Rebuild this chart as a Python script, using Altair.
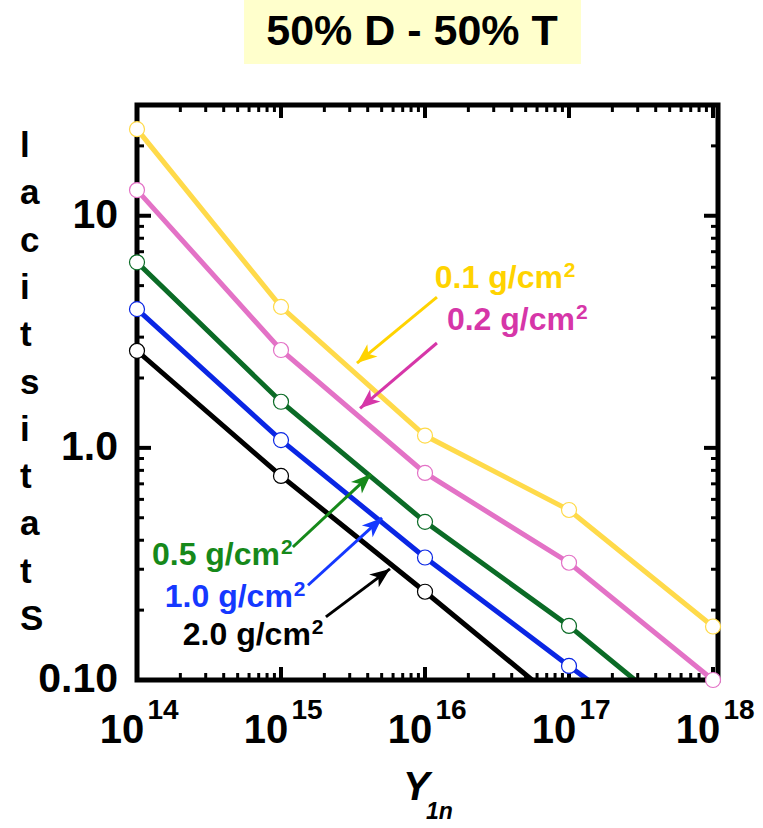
import math
import altair as alt
import pandas as pd

# ---- data -------------------------------------------------------------
densities = ["0.1 g/cm", "0.2 g/cm", "0.5 g/cm", "1.0 g/cm", "2.0 g/cm"]
unit_power = "2"
yields = [1e14, 1e15, 1e16, 1e17, 1e18]
stat_01 = [23.6, 4.05, 1.13, 0.54, 0.17]
stat_02 = [12.9, 2.64, 0.78, 0.32, 0.10]
stat_05 = [6.3, 1.58, 0.48, 0.171, 0.053]
stat_10 = [3.96, 1.08, 0.337, 0.115, 0.040]
stat_20 = [2.62, 0.757, 0.240, 0.074, 0.023]
series_values = [stat_01, stat_02, stat_05, stat_10, stat_20]

# label anchors and arrow start/end points (data units)
label_x = [1.17e16, 1.42e16, 1.27e14, 1.56e14, 2.08e14]
label_y = [4.88, 3.21, 0.313, 0.206, 0.142]
arrow_x0 = [1.21e16, 1.21e16, 1.21e15, 1.54e15, 2.05e15]
arrow_y0 = [4.46, 2.83, 0.374, 0.256, 0.187]
arrow_x1 = [3.37e15, 3.54e15, 4.22e15, 5.03e15, 5.71e15]
arrow_y1 = [2.32, 1.48, 0.771, 0.499, 0.301]

tick_exponents = [14, 15, 16, 17, 18]
y_tick_values = [0.1, 1.0, 10.0]
y_tick_labels = ["0.10", "1.0", "10"]

title_text = "50% D - 50% T"
y_title_word = "Statistical"

# ---- style ------------------------------------------------------------
line_colors = ["#FFDA4A", "#E372C6", "#0B6B26", "#0A26E4", "#000000"]
label_colors = ["#FFD300", "#D636A8", "#16891A", "#1538FF", "#000000"]
FONT = "Liberation Sans"
W, H = 581, 575
X_DOMAIN = [1e14, 1.083e18]
Y_DOMAIN = [0.1, 30]
x_scale = alt.Scale(type="log", domain=X_DOMAIN)
y_scale = alt.Scale(type="log", domain=Y_DOMAIN)
px_dec_x = W / math.log10(X_DOMAIN[1] / X_DOMAIN[0])
px_dec_y = H / math.log10(Y_DOMAIN[1] / Y_DOMAIN[0])
ARROW = "M0,0 L0.8,2 L0,1.45 L-0.8,2 Z"
LABEL_SIZE = 32
LABEL_WIDTH = 128  # advance of "0.0 g/cm" in bold at LABEL_SIZE

one = pd.DataFrame({"k": [0]})
layers = []

# title box
layers.append(alt.Chart(one).mark_rect(color="#FFFFCC").encode(
    x=alt.value(107), x2=alt.value(444), y=alt.value(-105), y2=alt.value(-41)))
layers.append(alt.Chart(one).mark_text(
    text=title_text, font=FONT, fontSize=43, fontWeight="bold",
    align="center", baseline="alphabetic", color="black").encode(
    x=alt.value(275), y=alt.value(-60)))

# inward ticks on all four sides
x_minor = [k * 10.0 ** e for e in range(14, 18) for k in range(2, 10)]
y_minor = [k * 10.0 ** e for e in (-1, 0) for k in range(2, 10)] + [20.0]
for vals, length, sw in [(yields, 13, 4), (x_minor, 7, 3)]:
    d = pd.DataFrame({"v": vals})
    xe = alt.X("v:Q", scale=x_scale, axis=None)
    layers.append(alt.Chart(d).mark_rule(color="black", strokeWidth=sw).encode(
        x=xe, y=alt.value(H), y2=alt.value(H - length)))
    layers.append(alt.Chart(d).mark_rule(color="black", strokeWidth=sw).encode(
        x=xe, y=alt.value(0), y2=alt.value(length)))
for vals, length, sw in [(y_tick_values, 14, 4), (y_minor, 7, 3)]:
    d = pd.DataFrame({"v": vals})
    ye = alt.Y("v:Q", scale=y_scale, axis=None)
    layers.append(alt.Chart(d).mark_rule(color="black", strokeWidth=sw).encode(
        y=ye, x=alt.value(0), x2=alt.value(length)))
    layers.append(alt.Chart(d).mark_rule(color="black", strokeWidth=sw).encode(
        y=ye, x=alt.value(W), x2=alt.value(W - length)))

# series lines
for name, vals, col in zip(densities, series_values, line_colors):
    d = pd.DataFrame({"x": yields, "y": vals})
    layers.append(alt.Chart(d).mark_line(color=col, strokeWidth=5, clip=True).encode(
        x=alt.X("x:Q", scale=x_scale, axis=None),
        y=alt.Y("y:Q", scale=y_scale, axis=None)))

# frame
layers.append(alt.Chart(one).mark_rect(fill="transparent", stroke="black", strokeWidth=5).encode(
    x=alt.value(0), x2=alt.value(W), y=alt.value(0), y2=alt.value(H)))

# open circle markers
for name, vals, col in zip(densities, series_values, line_colors):
    d = pd.DataFrame({"x": yields, "y": vals})
    layers.append(alt.Chart(d).transform_filter(alt.datum.y >= 0.0995).mark_point(
        shape="circle", fill="white", fillOpacity=1, stroke=col, strokeWidth=1.2,
        size=225, opacity=1).encode(
        x=alt.X("x:Q", scale=x_scale, axis=None),
        y=alt.Y("y:Q", scale=y_scale, axis=None)))

# labelled arrows
for i, name in enumerate(densities):
    col = label_colors[i]
    d = pd.DataFrame({"lx": [label_x[i]], "ly": [label_y[i]],
                      "x0": [arrow_x0[i]], "y0": [arrow_y0[i]],
                      "x1": [arrow_x1[i]], "y1": [arrow_y1[i]],
                      "t": [name], "p": [unit_power]})
    dx = math.log10(arrow_x1[i] / arrow_x0[i]) * px_dec_x
    dy = -math.log10(arrow_y1[i] / arrow_y0[i]) * px_dec_y
    ang = math.degrees(math.atan2(dx, -dy)) % 360
    lx = alt.X("lx:Q", scale=x_scale, axis=None)
    ly = alt.Y("ly:Q", scale=y_scale, axis=None)
    layers.append(alt.Chart(d).mark_text(
        font=FONT, fontSize=LABEL_SIZE, fontWeight="bold", align="left",
        baseline="alphabetic", color=col).encode(x=lx, y=ly, text="t:N"))
    layers.append(alt.Chart(d).mark_text(
        font=FONT, fontSize=21, fontWeight="bold", align="left",
        baseline="alphabetic", color=col, dx=LABEL_WIDTH + 1, dy=-11).encode(
        x=lx, y=ly, text="p:N"))
    layers.append(alt.Chart(d).mark_rule(color=col, strokeWidth=3).encode(
        x=alt.X("x0:Q", scale=x_scale, axis=None),
        y=alt.Y("y0:Q", scale=y_scale, axis=None), x2="x1:Q", y2="y1:Q"))
    layers.append(alt.Chart(d).mark_point(
        shape=ARROW, filled=True, size=400, angle=ang, color=col,
        opacity=1, strokeWidth=0).encode(
        x=alt.X("x1:Q", scale=x_scale, axis=None),
        y=alt.Y("y1:Q", scale=y_scale, axis=None)))

# x tick labels: 10 with superscript exponent
xt = pd.DataFrame({"v": [10.0 ** e for e in tick_exponents],
                   "base": ["10"] * len(tick_exponents),
                   "exp": [str(e) for e in tick_exponents]})
layers.append(alt.Chart(xt).mark_text(
    font=FONT, fontSize=40, fontWeight="bold", align="center",
    baseline="alphabetic", dx=-15, color="black").encode(
    x=alt.X("v:Q", scale=x_scale, axis=None), y=alt.value(H + 63), text="base:N"))
layers.append(alt.Chart(xt).mark_text(
    font=FONT, fontSize=28, fontWeight="bold", align="center",
    baseline="alphabetic", dx=26, color="black").encode(
    x=alt.X("v:Q", scale=x_scale, axis=None), y=alt.value(H + 39), text="exp:N"))

# y tick labels
yt = pd.DataFrame({"v": y_tick_values, "t": y_tick_labels})
layers.append(alt.Chart(yt).mark_text(
    font=FONT, fontSize=41, fontWeight="bold", align="right",
    baseline="middle", color="black").encode(
    y=alt.Y("v:Q", scale=y_scale, axis=None), x=alt.value(-19), text="t:N"))

# axis titles
layers.append(alt.Chart(one).mark_text(
    text="\n".join(reversed(y_title_word)), lineBreak="\n", lineHeight=47.3,
    font=FONT, fontSize=35, fontWeight="bold", align="left",
    baseline="alphabetic", color="black").encode(
    x=alt.value(-117), y=alt.value(52)))
layers.append(alt.Chart(one).mark_text(
    text="Y", font=FONT, fontSize=40, fontWeight="bold", fontStyle="italic",
    align="left", baseline="alphabetic", color="black").encode(
    x=alt.value(266), y=alt.value(695)))
layers.append(alt.Chart(one).mark_text(
    text="1n", font=FONT, fontSize=23, fontWeight="bold", fontStyle="italic",
    align="left", baseline="alphabetic", color="black").encode(
    x=alt.value(289), y=alt.value(714)))

chart = alt.layer(*layers).properties(
    width=W, height=H,
    padding={"left": 137, "top": 105, "right": 45, "bottom": 148},
    autosize=alt.AutoSizeParams(type="none"),
).configure_view(stroke=None)

chart.save("out.html", embed_options={"renderer": "svg", "actions": False})
